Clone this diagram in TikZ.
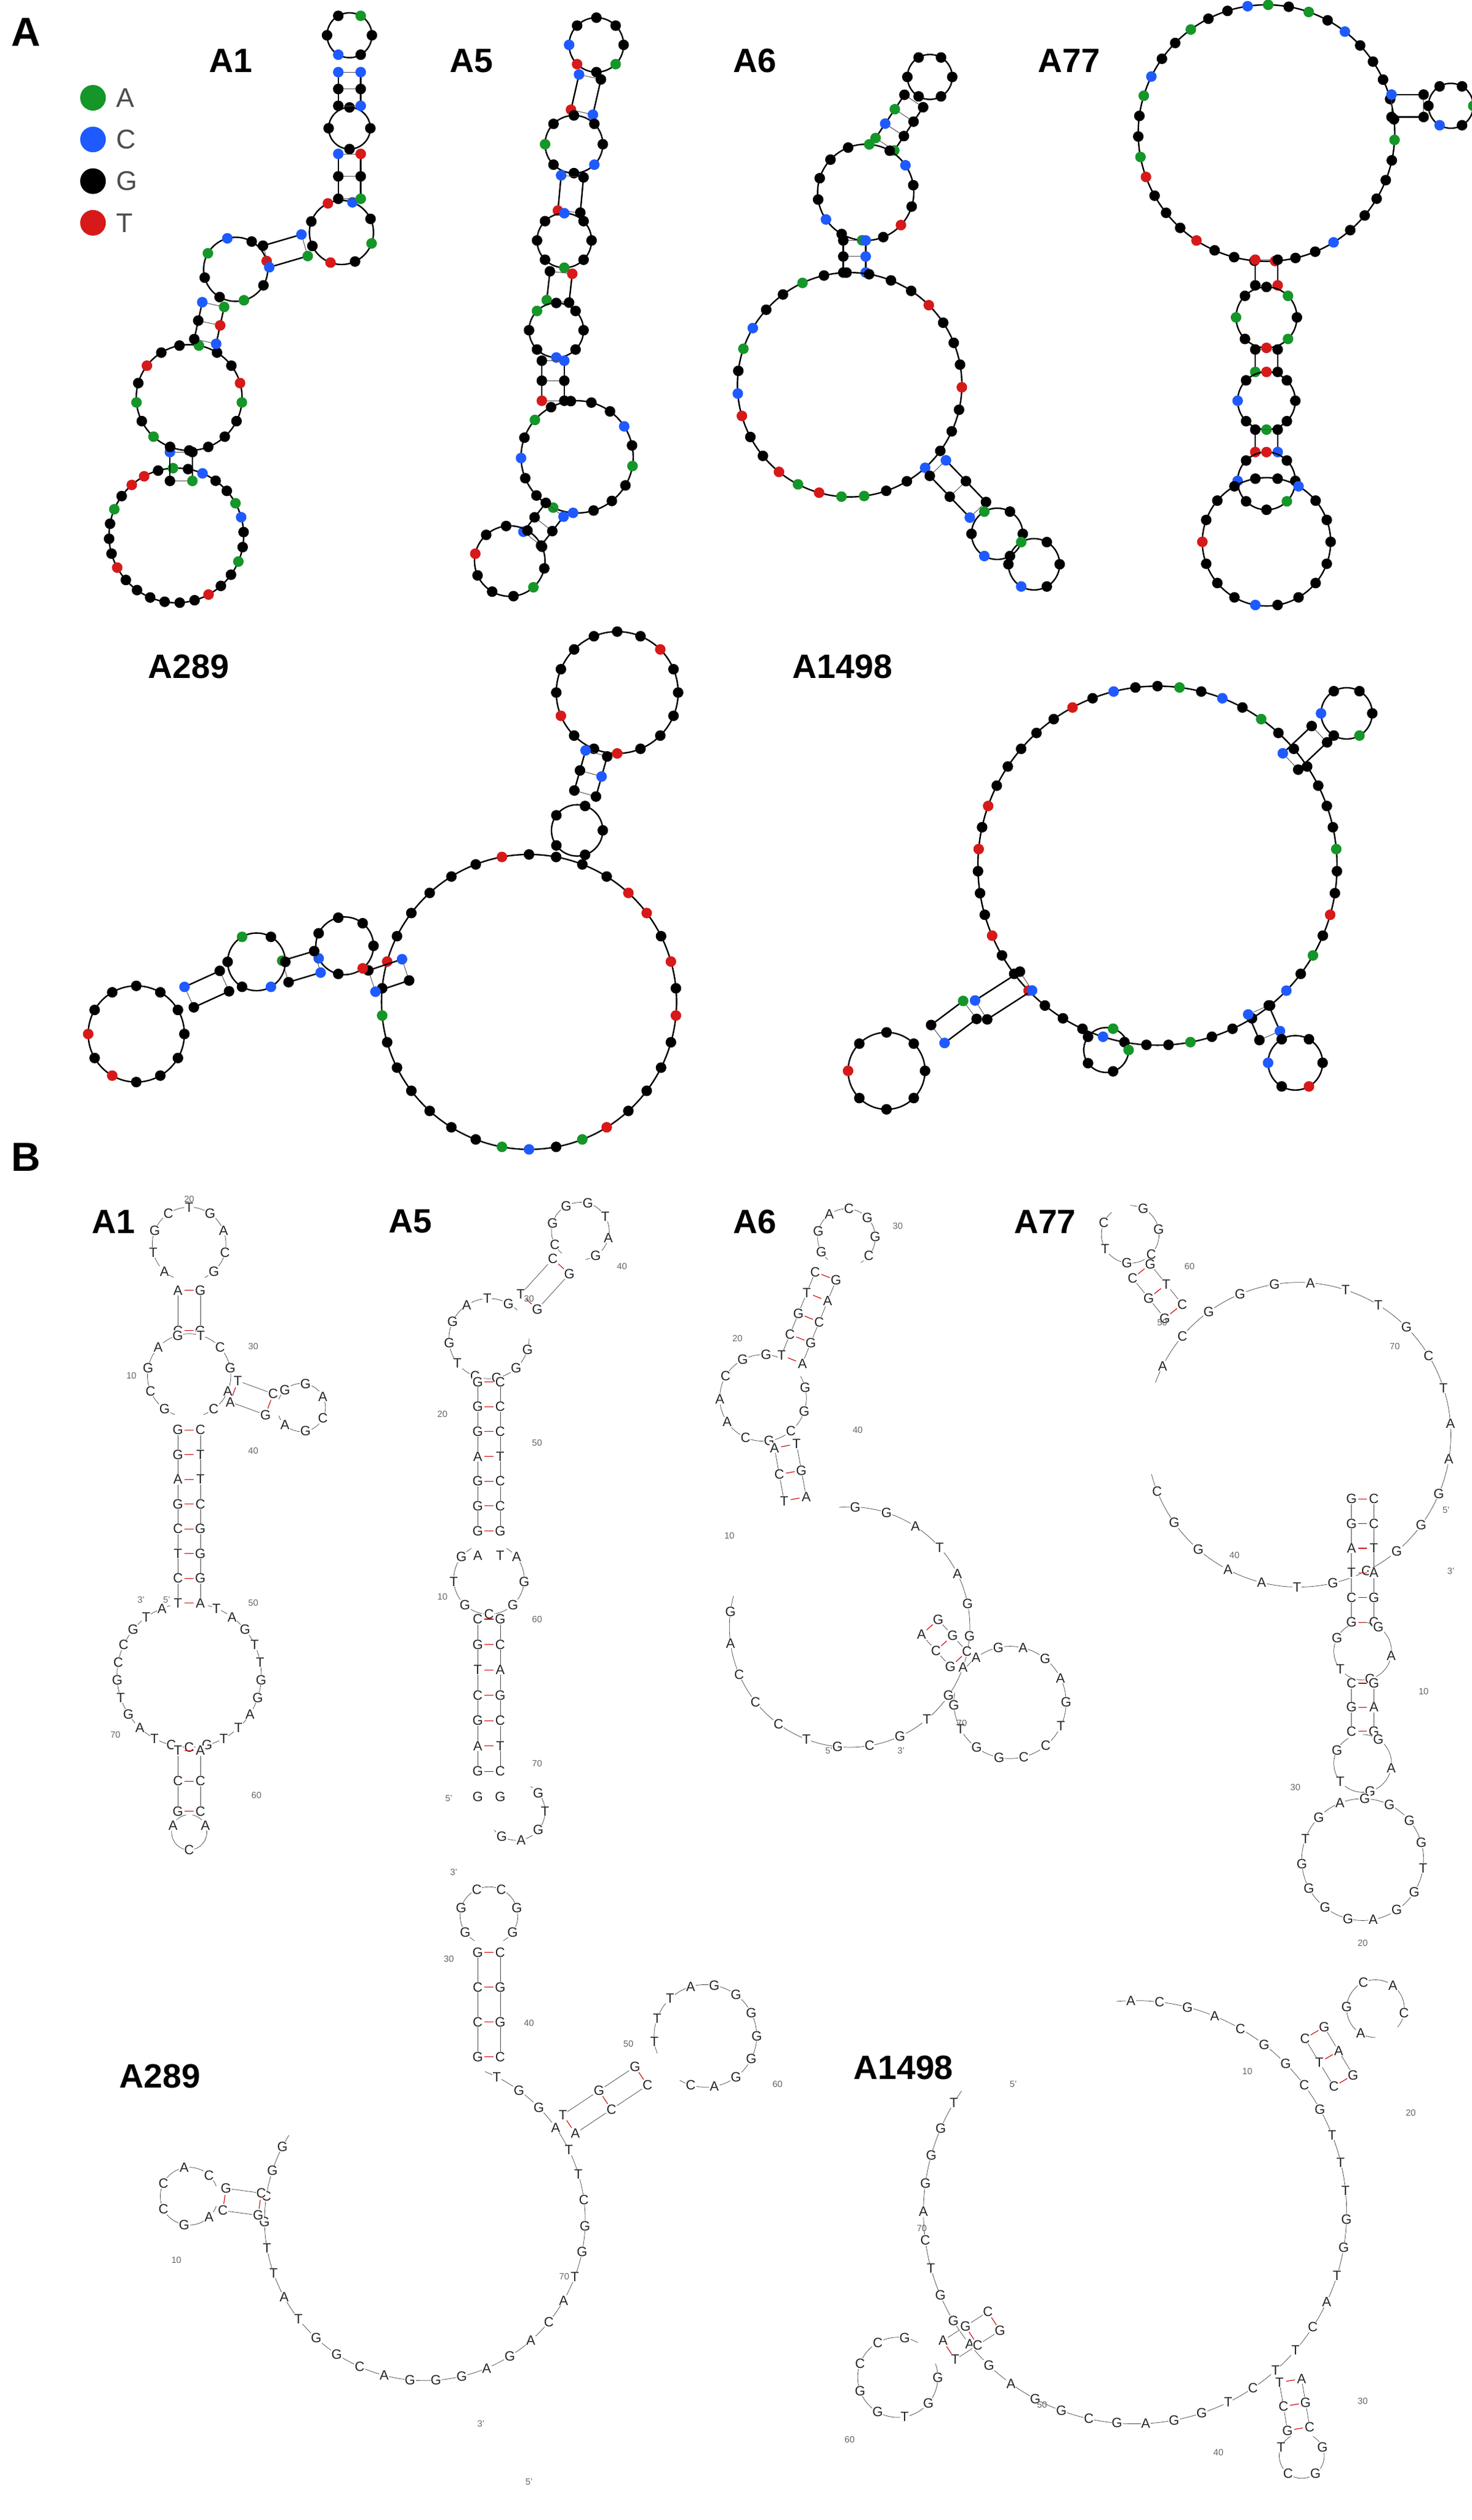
\documentclass[tikz,border=0pt]{standalone}
\usepackage{fontspec}
\setmainfont{Liberation Sans}
\begin{document}
\definecolor{nA}{RGB}{20,150,40}
\definecolor{nC}{RGB}{30,90,255}
\definecolor{nG}{RGB}{0,0,0}
\definecolor{nT}{RGB}{215,25,25}
\tikzset{bb/.style={line width=1.3pt,black},
 rg/.style={line width=0.5pt,black!70},
 bt/.style={line width=0.4pt,black!70},
 lt/.style={font=\fontsize{12}{12}\selectfont,fill=white,inner sep=0.4pt,text=black!85},
 num/.style={font=\fontsize{8}{8}\selectfont,text=black!60,inner sep=1pt},
 ttl/.style={font=\fontsize{30}{32}\selectfont\bfseries,anchor=west},
 pnl/.style={font=\fontsize{36}{38}\selectfont\bfseries},
 leg/.style={font=\fontsize{24}{26}\selectfont,text=black!70,anchor=west}}
% section A loop
\newcommand\lp[5]{% cx cy r start colors
 \draw[bb] (#1,#2) circle (#3);
 \foreach \c [count=\n] in {#5} {\xdef\nn{\n}}
 \foreach \c [count=\i] in {#5} {\fill[n\c] ({#1+#3*cos(#4+360/\nn*(\i-1))},{#2+#3*sin(#4+360/\nn*(\i-1))}) circle (3.3);}
}
% section A stem
\newcommand\st[6]{%
 \pgfmathsetmacro\dx{#3-#1}\pgfmathsetmacro\dy{#4-#2}\pgfmathsetmacro\myL{veclen(\dx,\dy)}
 \pgfmathsetmacro\nx{-\dy/\myL*7}\pgfmathsetmacro\ny{\dx/\myL*7}
 \draw[bb] ({#1+\nx},{#2+\ny}) -- ({#3+\nx},{#4+\ny}) ({#1-(\nx)},{#2-(\ny)}) -- ({#3-(\nx)},{#4-(\ny)});
 \foreach \kk in {1,...,#5}{\pgfmathsetmacro\myt{(\kk-1)/(#5-1)}
   \draw[rg] ({#1+\dx*\myt+\nx},{#2+\dy*\myt+\ny}) -- ({#1+\dx*\myt-(\nx)},{#2+\dy*\myt-(\ny)});}
 \foreach \c [count=\i] in {#6} {
   \pgfmathsetmacro\myk{int((\i-1)/2)}
   \pgfmathsetmacro\mys{ifthenelse(mod(\i,2)==1,1,-1)}
   \pgfmathsetmacro\myt{\myk/(#5-1)}
   \fill[n\c] ({#1+\dx*\myt+\mys*\nx},{#2+\dy*\myt+\mys*\ny}) circle (3.3);}
}
% section B loop
\newcommand\bl[6]{% cx cy r a0 a1 letters
 \draw[bt] ({#1+#3*cos(#4)},{#2+#3*sin(#4)}) arc[start angle=#4,end angle=#5,radius=#3];
 \foreach \c [count=\n] in {#6} {\xdef\nn{\n}}
 \foreach \c [count=\i] in {#6} {\node[lt] at ({#1+#3*cos(#4+(#5-#4)/\nn*(\i-0.5))},{#2+#3*sin(#4+(#5-#4)/\nn*(\i-0.5))}) {\c};}
}
% section B stem
\newcommand\bs[6]{%
 \pgfmathsetmacro\dx{#3-#1}\pgfmathsetmacro\dy{#4-#2}\pgfmathsetmacro\myL{veclen(\dx,\dy)}
 \pgfmathsetmacro\nx{-\dy/\myL*7}\pgfmathsetmacro\ny{\dx/\myL*7}
 \draw[bt] ({#1+\nx},{#2+\ny}) -- ({#3+\nx},{#4+\ny}) ({#1-(\nx)},{#2-(\ny)}) -- ({#3-(\nx)},{#4-(\ny)});
 \foreach \kk in {1,...,#5}{\pgfmathsetmacro\myt{(\kk-1)/(#5-1)}
   \draw[red!80!black,line width=0.6pt] ({#1+\dx*\myt+0.4*\nx},{#2+\dy*\myt+0.4*\ny}) -- ({#1+\dx*\myt-0.4*\nx},{#2+\dy*\myt-0.4*\ny});}
 \foreach \c [count=\i] in {#6} {
   \pgfmathsetmacro\myk{int((\i-1)/2)}
   \pgfmathsetmacro\mys{ifthenelse(mod(\i,2)==1,1,-1)}
   \pgfmathsetmacro\myt{\myk/(#5-1)}
   \node[lt] at ({#1+\dx*\myt+\mys*\nx},{#2+\dy*\myt+\mys*\ny}) {\c};}
}
\begin{tikzpicture}[x=0.05cm,y=-0.05cm]
\useasboundingbox[fill=white] (0,0) rectangle (918,1572);
% ---------- panel A ----------
\node[pnl] (pA) at (16,20) {A};
\node[pnl] (pB) at (16,722) {B};
\foreach \col/\l [count=\i] in {nA/A,nC/C,nG/G,nT/T}{
  \fill[\col] (58,{35+26*\i}) circle (8);
  \node[leg] (lg\i) at (70,{35+26*\i}) {\l};}
\node[ttl] (t1) at (128,38) {A1};
\node[ttl] (t5) at (278,38) {A5};
\node[ttl] (t6) at (455,38) {A6};
\node[ttl] (t77) at (645,38) {A77};
\node[ttl] (t289) at (90,416) {A289};
\node[ttl] (t1498) at (492,416) {A1498};
% A1
\lp{110}{334}{42}{100}{G,G,G,G,T,G,G,G,A,G,T,T,G,A,G,C,G,G,A,C,G,G,A,G,G,T,G,G}
\st{113}{300}{113}{282}{2}{A,G,G,C}
\lp{118}{248}{33}{90}{G,G,A,G,A,G,T,G,G,A,G,G,T,A,G,G,G}
\st{128}{213}{133}{190}{3}{C,G,T,G,A,C}
\lp{147}{168}{20}{120}{G,G,A,C,G,T,G,A}
\st{166}{160}{190}{153}{2}{C,G,A,C}
\lp{213}{145}{20}{200}{G,T,C,G,A,G,T,G}
\st{218}{124}{218}{96}{3}{A,G,G,G,T,C}
\lp{218}{80}{13}{0}{G,G,G,G}
\st{218}{66}{218}{45}{3}{C,G,G,G,C,C}
\lp{218}{22}{14}{0}{G,G,C,G,G,A}
% A5
\lp{372}{28}{17}{0}{G,A,G,T,C,G,G,G}
\st{368}{48}{363}{70}{2}{C,G,T,C}
\lp{358}{90}{18}{0}{G,C,G,G,A,G,G,G}
\st{357}{110}{355}{132}{2}{C,G,T,G}
\lp{352}{150}{17}{0}{G,G,A,G,G,G,C,G}
\st{350}{170}{348}{188}{2}{G,T,A,G}
\lp{347}{206}{17}{0}{G,G,C,G,G,A,G,G}
\st{345}{225}{345}{250}{3}{G,C,G,G,T,G}
\lp{360}{285}{35}{200}{G,A,G,G,G,G,C,G,A,G,G,G,C,A,G,G,C}
\st{346}{318}{332}{336}{3}{G,C,G,G,C,G}
\lp{318}{350}{22}{300}{G,G,G,A,G,G,G,T,G,G}
% A6
\lp{580}{48}{14}{0}{G,G,G,G,G,G}
\st{570}{63}{552}{90}{4}{G,G,A,G,C,G,A,A}
\lp{540}{120}{30}{300}{G,C,G,G,T,G,A,G,C,G,G,G,G,A}
\st{533}{150}{533}{170}{3}{G,C,G,C,G,C}
\lp{530}{240}{70}{280}{G,G,G,T,G,G,G,T,G,G,G,C,G,G,A,A,T,A,T,G,G,T,C,G,A,C,G,G,A,G,G}
\st{585}{292}{610}{318}{3}{G,C,G,G,C,G}
\lp{622}{333}{16}{0}{G,G,C,G,A,G}
\lp{645}{352}{16}{0}{G,G,C,G,A,G}
% A77
\lp{790}{83}{80}{280}{G,A,G,C,G,G,G,G,G,A,G,G,G,G,G,C,G,G,T,G,G,G,T,G,G,G,T,A,G,G,A,C,G,G,A,G,G,C,A}
\st{868}{66}{888}{66}{2}{G,C,G,G}
\lp{905}{66}{14}{0}{A,G,C,G,G,G}
\st{790}{162}{790}{178}{2}{T,G,G,T}
\lp{790}{198}{19}{0}{G,A,T,G,A,G,G,A}
\st{790}{218}{790}{232}{2}{G,G,A,G}
\lp{790}{250}{18}{0}{G,G,A,G,C,G,T,G}
\st{790}{268}{790}{282}{2}{G,G,T,C}
\lp{790}{300}{18}{0}{G,A,G,G,C,G,T,G}
\lp{790}{338}{40}{0}{G,G,G,G,G,C,G,G,G,T,G,G,G,G,G,C,G,G}
% A289
\lp{385}{432}{38}{90}{T,G,G,T,G,G,G,G,G,G,T,G,G,G,G,G}
\st{372}{470}{365}{495}{3}{C,G,G,C,G,G}
\lp{360}{518}{16}{0}{G,G,G,G,G}
\lp{330}{625}{92}{270}{G,G,G,G,T,T,G,T,G,T,G,G,G,G,T,A,G,C,A,G,G,G,G,G,G,A,G,T,G,G,G,G,G,T}
\st{253}{605}{232}{612}{2}{C,G,G,C}
\lp{215}{590}{18}{0}{G,T,G,C,G,G,G}
\st{198}{600}{178}{606}{2}{G,C,A,G}
\lp{160}{600}{18}{0}{G,C,G,G,A,G}
\st{140}{612}{118}{622}{2}{G,G,C,G}
\lp{85}{645}{30}{0}{G,G,G,G,T,G,T,G,G,G,G,G}
% A1498
\lp{722}{540}{112}{270}{G,A,G,C,G,A,G,G,G,G,G,G,A,G,G,T,G,A,G,C,G,G,G,G,A,G,G,G,C,G,G,G,T,G,G,T,G,G,G,T,G,T,G,G,G,G,G,T,G,C,G}
\st{805}{475}{823}{458}{2}{G,C,G,G}
\lp{840}{445}{16}{0}{G,A,G,C,G,G}
\st{640}{612}{612}{630}{2}{G,C,C,G}
\st{605}{630}{585}{645}{2}{A,G,G,C}
\lp{553}{668}{24}{0}{G,G,G,G,T,G,G,G}
\lp{690}{655}{14}{0}{A,G,G,G,A}
\st{785}{630}{792}{646}{2}{C,G,G,C}
\lp{808}{663}{17}{0}{G,T,G,C,G,G}
% ---------- panel B ----------
\node[ttl] (b1) at (55,762) {A1};
\node[ttl] (b5) at (240,762) {A5};
\node[ttl] (b6) at (455,762) {A6};
\node[ttl] (b77) at (630,762) {A77};
\node[ttl] (b289) at (72,1295) {A289};
\node[ttl] (b1498) at (530,1290) {A1498};
% B A1
\bl{118}{776}{23}{115}{425}{A,T,G,C,T,G,A,C,G}
\bs{118}{805}{118}{830}{2}{A,G,C,G}
\bl{118}{858}{26}{110}{430}{G,C,G,A,G,T,C,G,A,C}
\bs{146}{868}{168}{876}{2}{A,T,G,C}
\bl{188}{878}{15}{200}{520}{G,G,A,C,G,A}
\bs{118}{892}{118}{1000}{8}{G,C,G,T,A,T,G,C,C,G,T,G,C,G,T,A}
\bl{118}{1045}{45}{285}{615}{T,A,G,T,T,G,G,A,T,T,G,C,C,T,A,G,T,G,C,C,G,T,A}
\bs{118}{1092}{118}{1130}{3}{T,A,C,C,G,C}
\bl{118}{1143}{11}{-80}{260}{A,C,A}
\node[num] (n1a) at (118,748) {20};
\node[num] (n1b) at (158,840) {30};
\node[num] (n1c) at (82,858) {10};
\node[num] (n1d) at (158,905) {40};
\node[num] (n1e) at (158,1000) {50};
\node[num] (n1f) at (72,1082) {70};
\node[num] (n1g) at (160,1120) {60};
\node[num] (n1h) at (88,998) {3'};
\node[num] (n1i) at (104,998) {5'};
% B A5
\bl{362}{768}{18}{130}{440}{C,G,G,G,T,A,G}
\bs{350}{790}{330}{812}{2}{C,G,T,G}
\bl{305}{835}{25}{0}{315}{G,G,G,C,T,G,G,A,T,G}
\bs{305}{862}{305}{955}{7}{G,C,G,C,G,C,A,T,G,C,G,C,G,G,A,T}
\bl{305}{985}{22}{300}{600}{A,G,G,C,G,T,G}
\bs{305}{1010}{305}{1105}{7}{C,G,G,C,T,A,C,G,G,C,A,T,G,C,G,G}
\bl{322}{1130}{18}{-60}{140}{G,T,G,A,G}
\node[num] (n5a) at (330,810) {30};
\node[num] (n5b) at (388,790) {40};
\node[num] (n5c) at (276,882) {20};
\node[num] (n5d) at (335,900) {50};
\node[num] (n5e) at (276,996) {10};
\node[num] (n5f) at (335,1010) {60};
\node[num] (n5g) at (335,1100) {70};
\node[num] (n5h) at (280,1122) {5'};
\node[num] (n5i) at (283,1168) {3'};
% B A6
\bl{528}{772}{18}{130}{420}{G,G,A,C,G,G,C}
\bs{515}{796}{494}{848}{5}{C,G,T,A,G,C,C,G,T,A}
\bl{476}{872}{27}{-30}{290}{G,G,C,G,C,A,A,C,G,G}
\bs{490}{902}{496}{935}{3}{A,T,C,G,T,A}
\bl{530}{1015}{75}{-95}{195}{G,G,A,T,A,G,G,A,G,T,G,C,G,T,C,C,C,A,G}
\bs{580}{1015}{598}{1035}{3}{A,G,C,G,G,C}
\bl{630}{1062}{35}{-140}{190}{A,G,A,G,A,G,T,C,C,G,G,T,G}
\node[num] (n6a) at (560,765) {30};
\node[num] (n6b) at (460,835) {20};
\node[num] (n6c) at (535,892) {40};
\node[num] (n6d) at (455,958) {10};
\node[num] (n6e) at (600,1075) {70};
\node[num] (n6f) at (517,1092) {5'};
\node[num] (n6g) at (562,1092) {3'};
% B A77
\bl{705}{770}{18}{-90}{230}{G,G,C,G,T,C}
\bs{712}{793}{732}{818}{3}{C,G,G,T,G,C}
\bl{810}{895}{95}{-160}{165}{A,C,G,G,G,A,T,T,G,C,T,A,A,G,G,G,G,G,T,A,A,G,G,C}
\bs{850}{935}{850}{1012}{6}{G,C,G,C,A,T,T,A,C,G,G,C}
\bl{850}{1030}{18}{-90}{240}{G,A,G,T,G}
\bs{850}{1050}{850}{1080}{3}{C,G,G,A,C,G}
\bl{850}{1100}{18}{-90}{240}{G,A,G,T,G}
\bl{850}{1160}{38}{-100}{260}{G,G,G,G,T,G,G,A,G,G,G,G,T,G,A}
\node[num] (n7a) at (742,790) {60};
\node[num] (n7b) at (725,825) {50};
\node[num] (n7c) at (870,840) {70};
\node[num] (n7d) at (770,970) {40};
\node[num] (n7e) at (902,942) {5'};
\node[num] (n7f) at (905,980) {3'};
\node[num] (n7g) at (888,1055) {10};
\node[num] (n7h) at (808,1115) {30};
\node[num] (n7i) at (850,1212) {20};
% B A289
\bl{305}{1195}{18}{120}{420}{G,G,C,C,G,G}
\bs{305}{1218}{305}{1283}{4}{G,C,C,G,C,G,G,C}
\bl{265}{1385}{100}{-68}{212}{T,G,G,A,T,T,C,G,G,T,A,C,A,G,A,G,G,G,A,C,G,G,T,A,T,T,G,C,G,G}
\bs{355}{1325}{400}{1295}{3}{A,T,C,G,C,G}
\bl{440}{1270}{32}{160}{480}{T,T,T,A,G,G,G,G,G,G,A,C}
\bs{162}{1375}{140}{1372}{2}{C,G,G,C}
\bl{118}{1370}{18}{20}{340}{A,G,C,C,A,C}
\node[num] (n2a) at (280,1222) {30};
\node[num] (n2b) at (330,1262) {40};
\node[num] (n2c) at (392,1275) {50};
\node[num] (n2d) at (485,1300) {60};
\node[num] (n2e) at (352,1420) {70};
\node[num] (n2f) at (110,1410) {10};
\node[num] (n2g) at (300,1512) {3'};
\node[num] (n2h) at (330,1548) {5'};
% B A1498
\bl{708}{1380}{132}{-95}{215}{A,C,G,A,C,G,G,C,G,T,T,T,G,G,T,A,C,T,T,C,T,G,G,A,G,C,G,G,A,G,A,G,G,T,C,A,G,G,G,T}
\bs{820}{1268}{838}{1298}{3}{C,G,T,A,C,G}
\bl{858}{1253}{18}{90}{400}{A,G,C,A,C}
\bs{620}{1448}{592}{1466}{3}{C,G,G,C,A,T}
\bl{560}{1483}{25}{-20}{300}{G,G,T,G,G,C,C,G}
\bs{805}{1485}{810}{1515}{3}{T,A,C,G,G,C}
\bl{812}{1532}{14}{-60}{240}{G,G,C,T}
\node[num] (n8a) at (632,1300) {5'};
\node[num] (n8b) at (778,1292) {10};
\node[num] (n8c) at (880,1318) {20};
\node[num] (n8d) at (575,1390) {70};
\node[num] (n8e) at (530,1522) {60};
\node[num] (n8f) at (650,1500) {50};
\node[num] (n8g) at (760,1530) {40};
\node[num] (n8h) at (850,1498) {30};
\end{tikzpicture}
\end{document}
